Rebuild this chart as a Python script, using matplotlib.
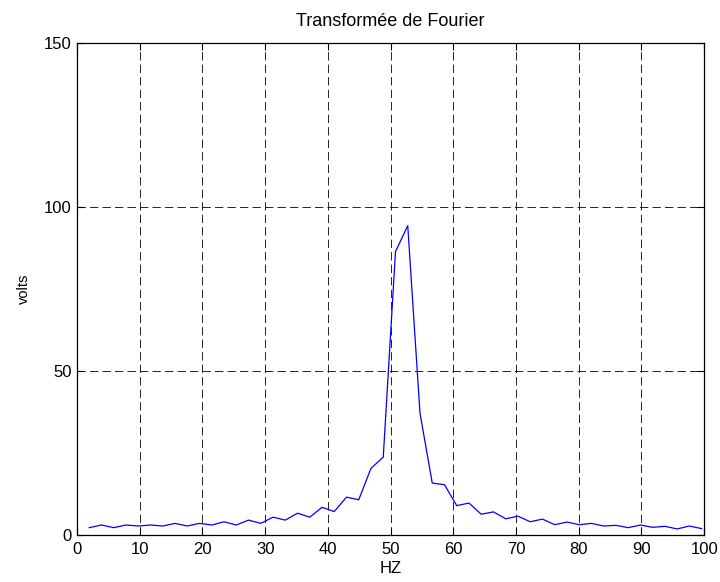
import numpy as np
import matplotlib
matplotlib.use("Agg")
from matplotlib import pyplot as plt

plt.rcParams['font.family'] = ['Liberation Sans', 'DejaVu Sans']

# frequency bins (fs = 1000 Hz, N = 512)
k = np.arange(1, 52)
freq = k * 1000.0 / 512

volts = [2.2, 3.0, 2.2, 3.0, 2.7, 3.0, 2.7, 3.5, 2.7, 3.5,
         3.0, 4.0, 3.0, 4.5, 3.5, 5.4, 4.5, 6.6, 5.4, 8.4,
         7.1, 11.5, 10.7, 20.3, 23.7, 86.4, 94.3, 37.1, 15.8, 15.3,
         8.9, 9.7, 6.3, 7.0, 4.9, 5.7, 4.0, 4.8, 3.1, 3.9,
         3.1, 3.5, 2.7, 2.9, 2.2, 3.0, 2.3, 2.6, 1.8, 2.7, 1.9]

xticks = list(range(0, 101, 10))
yticks = [0, 50, 100, 150]

fig = plt.figure(figsize=(7.2, 5.82), dpi=100)
ax = fig.add_axes([0.107, 0.081, 0.871, 0.845])
ax.plot(freq, volts, color=(0, 0, 1), lw=0.9)

ax.set_xlim(0, 100)
ax.set_ylim(0, 150)
ax.set_xticks(xticks)
ax.set_yticks(yticks)
ax.grid(True, color="black", linestyle=(0, (10, 5)), linewidth=0.6)
ax.tick_params(direction="in", top=True, right=True, labelsize=12, length=5, width=0.8)
ax.tick_params(axis="x", pad=5)
ax.tick_params(axis="y", pad=4)
for s in ax.spines.values():
    s.set_linewidth(0.9)

ax.set_xlabel("HZ", fontsize=12, labelpad=3)
ax.set_ylabel("volts", fontsize=10.5, labelpad=9)
ax.set_title("Transformée de Fourier", fontsize=13, pad=12)

fig.savefig("out.png", dpi=100)
